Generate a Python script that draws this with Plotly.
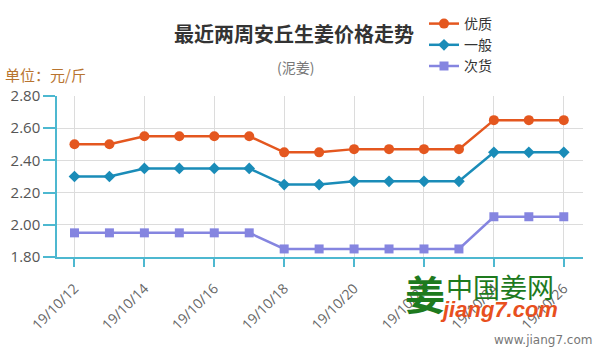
import plotly.graph_objects as go

days = [12, 13, 14, 15, 16, 17, 18, 19, 20, 21, 22, 23, 24, 25, 26]
tick_days = [12, 14, 16, 18, 20, 22, 24, 26]
tick_labels = ["19/10/12", "19/10/14", "19/10/16", "19/10/18", "19/10/20", "19/10/22", "19/10/24", "19/10/26"]
youzhi = [2.50, 2.50, 2.55, 2.55, 2.55, 2.55, 2.45, 2.45, 2.47, 2.47, 2.47, 2.47, 2.65, 2.65, 2.65]
yiban = [2.30, 2.30, 2.35, 2.35, 2.35, 2.35, 2.25, 2.25, 2.27, 2.27, 2.27, 2.27, 2.45, 2.45, 2.45]
cihuo = [1.95, 1.95, 1.95, 1.95, 1.95, 1.95, 1.85, 1.85, 1.85, 1.85, 1.85, 1.85, 2.05, 2.05, 2.05]
y_ticks = [1.8, 2.0, 2.2, 2.4, 2.6, 2.8]

CJK = "Noto Sans CJK SC"
NUM = "Open Sans, Noto Sans, sans-serif"
AXIS = "#4db8d0"

L, R, T, B = 57, 17, 96, 103
PW, PH = 600 - L - R, 360 - T - B


def px(x):
    return (x - L) / PW


def py(y):
    return (360 - B - y) / PH


fig = go.Figure()
fig.add_trace(go.Scatter(x=days, y=youzhi, name="优质", mode="lines+markers",
                         line=dict(color="#e4571f", width=2.5),
                         marker=dict(symbol="circle", size=10, color="#e4571f")))
fig.add_trace(go.Scatter(x=days, y=yiban, name="一般", mode="lines+markers",
                         line=dict(color="#1a8cb8", width=2.5),
                         marker=dict(symbol="diamond", size=9, color="#1a8cb8")))
fig.add_trace(go.Scatter(x=days, y=cihuo, name="次货", mode="lines+markers",
                         line=dict(color="#8585e0", width=2.5),
                         marker=dict(symbol="square", size=9, color="#8585e0")))

fig.update_layout(
    width=600, height=360,
    margin=dict(l=L, r=R, t=T, b=B, autoexpand=False),
    paper_bgcolor="white", plot_bgcolor="white",
    showlegend=True,
    legend=dict(x=px(424), y=py(8), xanchor="left", yanchor="top",
                font=dict(family=CJK, size=14, color="#333"),
                bgcolor="rgba(0,0,0,0)", tracegroupgap=0, itemwidth=30),
    xaxis=dict(range=[11.5, 26.55], tickmode="array", tickvals=tick_days, ticktext=tick_labels,
               tickangle=-45, showgrid=True, gridcolor="#dcdcdc", gridwidth=1,
               showline=True, linecolor=AXIS, linewidth=1.5,
               ticks="outside", ticklen=8, tickcolor=AXIS, tickwidth=1.5,
               ticklabelstandoff=8,
               tickfont=dict(family=NUM, size=14, color="#666"), zeroline=False, fixedrange=True),
    yaxis=dict(range=[1.8, 2.8], tickmode="array", tickvals=y_ticks,
               ticktext=["%.2f" % v for v in y_ticks],
               showgrid=True, gridcolor="#dcdcdc", gridwidth=1,
               showline=True, linecolor=AXIS, linewidth=1.5,
               ticks="outside", ticklen=12, tickcolor=AXIS, tickwidth=1.5,
               tickfont=dict(family=NUM, size=15, color="#555"), zeroline=False, fixedrange=True),
    annotations=[
        dict(text="<b>最近两周安丘生姜价格走势</b>", xref="paper", yref="paper",
             x=px(294), y=py(33), xanchor="center", yanchor="middle",
             showarrow=False, font=dict(family=CJK, size=20, color="#333")),
        dict(text="(泥姜)", xref="paper", yref="paper",
             x=px(295), y=py(67), xanchor="center", yanchor="middle",
             showarrow=False, font=dict(family=CJK, size=14, color="#777")),
        dict(text="单位：元/斤", xref="paper", yref="paper",
             x=px(3), y=py(74), xanchor="left", yanchor="middle",
             showarrow=False, font=dict(family=CJK, size=15, color="#b8742f")),
        dict(text="<b>姜</b>", xref="paper", yref="paper",
             x=px(425), y=py(293), xanchor="center", yanchor="middle",
             showarrow=False, font=dict(family=CJK, size=40, color="#1e7a1e")),
        dict(text="中国姜网", xref="paper", yref="paper",
             x=px(500), y=py(286), xanchor="center", yanchor="middle",
             showarrow=False, font=dict(family=CJK, size=27, color="#1e7a1e")),
        dict(text="<b><i>jiang7.com</i></b>", xref="paper", yref="paper",
             x=px(499), y=py(309), xanchor="center", yanchor="middle",
             showarrow=False, font=dict(family="Liberation Sans, Arial, sans-serif", size=22, color="#e8501e")),
        dict(text="www.jiang7.com", xref="paper", yref="paper",
             x=px(594), y=py(340), xanchor="right", yanchor="middle",
             showarrow=False, font=dict(family="DejaVu Sans, sans-serif", size=12, color="#777")),
    ],
)

fig.write_html("out.html", config={"displayModeBar": False},
               post_script="document.body.style.margin='0';")
